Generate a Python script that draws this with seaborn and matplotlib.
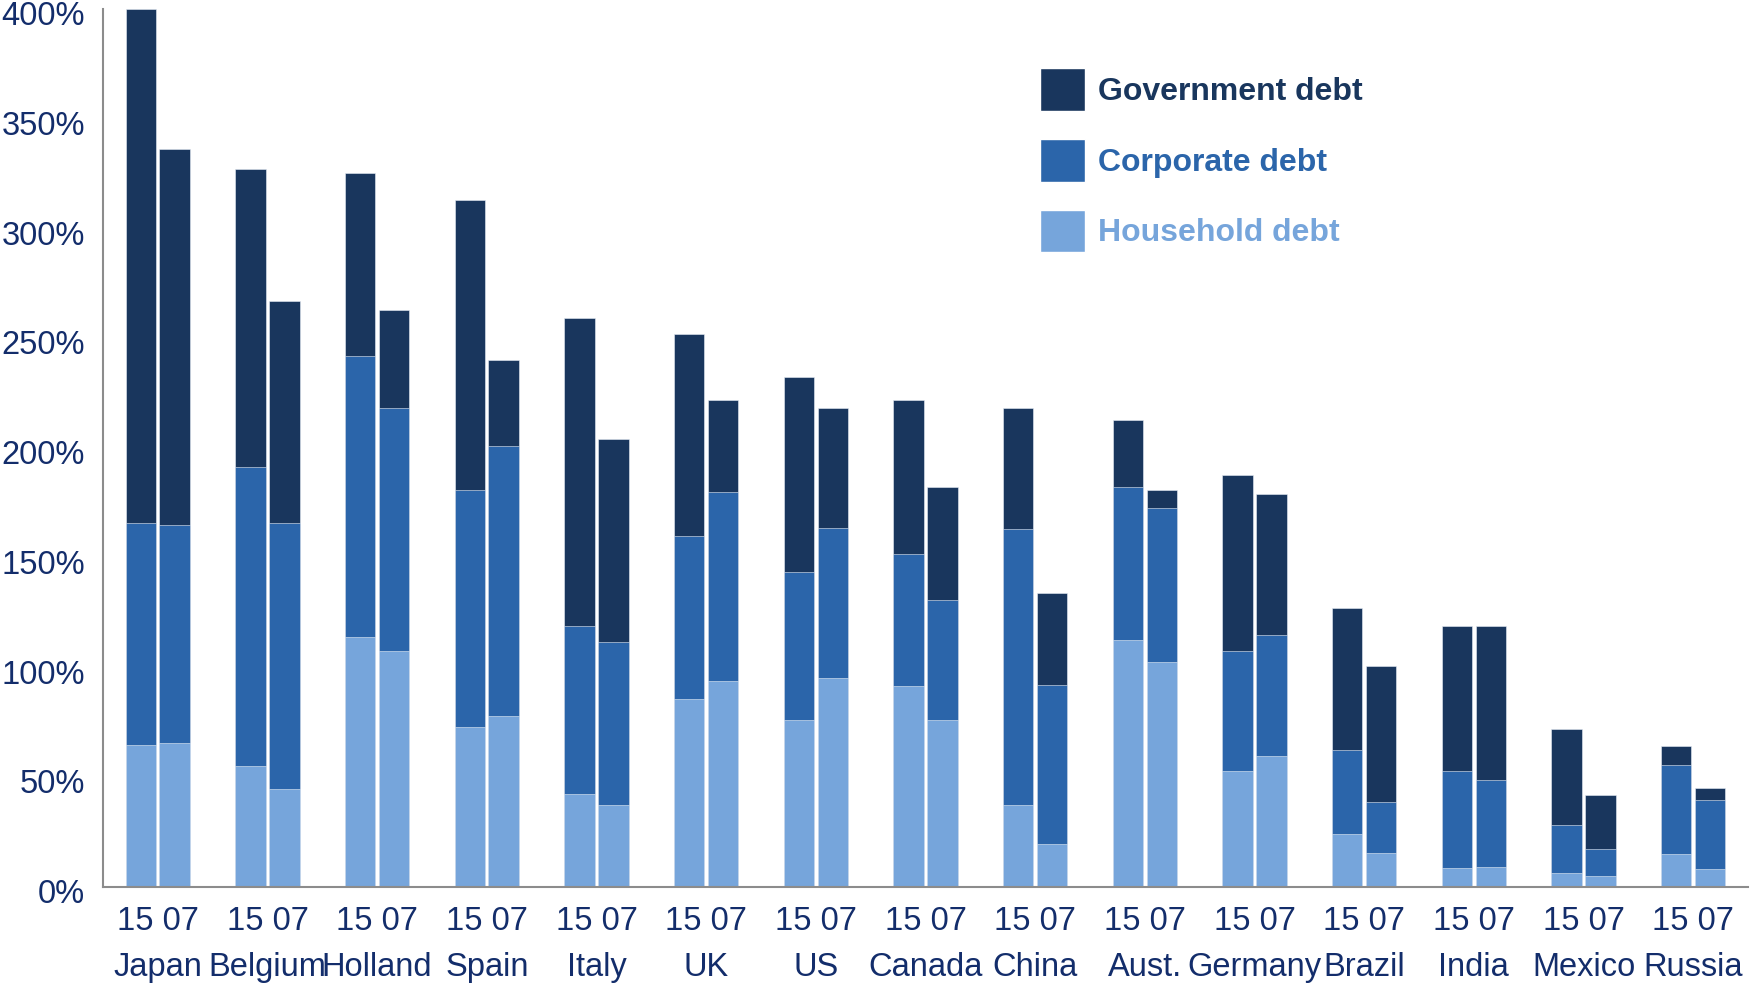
import numpy as np
import pandas as pd
import matplotlib
matplotlib.use("Agg")
import matplotlib.pyplot as plt
from matplotlib.patches import Patch
from matplotlib.ticker import FixedLocator, FuncFormatter
from matplotlib.transforms import ScaledTranslation
import seaborn as sns

countries = ['Japan', 'Belgium', 'Holland', 'Spain', 'Italy', 'UK', 'US', 'Canada',
             'China', 'Aust.', 'Germany', 'Brazil', 'India', 'Mexico', 'Russia']
years = ['15', '07']

# debt as % of GDP
household_15 = [64.5, 55, 114, 73, 42.5, 85.5, 76, 91.5, 37.5, 112.5, 53, 24, 8.5, 6.5, 15]
corporate_15 = [101.5, 136.5, 128, 108, 76.5, 74.5, 67.5, 60, 125.5, 69.5, 54.5, 38.5, 44.5, 21.5, 40.5]
government_15 = [234, 135.5, 83, 132, 140, 92, 89, 70.5, 55, 30.5, 80, 64.5, 66, 44, 8.5]

household_07 = [65.5, 44.5, 107.5, 78, 37.5, 94, 95, 76, 19.5, 102.5, 59.5, 15.5, 9, 5, 8]
corporate_07 = [99.5, 121.5, 110.5, 123, 74, 86, 68.5, 54.5, 72.5, 70, 55.5, 23, 39.5, 12.5, 31.5]
government_07 = [171, 101, 45, 39, 92.5, 42, 54.5, 51.5, 42, 8.5, 64, 62, 70.5, 24.5, 5.5]

c_gov = '#19365D'
c_corp = '#2B65AA'
c_house = '#76A5DB'
c_text = '#132D6B'
c_axis = '#8C8C8C'

rows = []
for yr, hh, co, gv in [('15', household_15, corporate_15, government_15),
                       ('07', household_07, corporate_07, government_07)]:
    for i, c in enumerate(countries):
        rows.append({'country': c, 'year': yr,
                     'household': hh[i],
                     'corp_top': hh[i] + co[i],
                     'total': hh[i] + co[i] + gv[i]})
df = pd.DataFrame(rows)

sns.set_style('white')
plt.rcParams['font.family'] = ['Liberation Sans', 'DejaVu Sans']

fig = plt.figure(figsize=(17.63, 9.83), dpi=100)
ax = fig.add_axes([0.0584, 0.0977, 0.9331, 0.8933])

for col, color in [('total', c_gov), ('corp_top', c_corp), ('household', c_house)]:
    sns.barplot(data=df, x='country', y=col, hue='year', hue_order=years, order=countries,
                palette=[color, color], saturation=1, width=0.617, gap=0.1, dodge=True,
                errorbar=None, legend=False, edgecolor='#E8EEF6', linewidth=0.4, ax=ax)

ax.set_xlim(-0.5, len(countries) - 0.5)
ax.set_ylim(0, 400)
ax.set_xlabel('')
ax.set_ylabel('')

ax.set_yticks(np.arange(0, 401, 50))
ax.yaxis.set_major_formatter(FuncFormatter(lambda v, p: f'{int(v)}%'))
ax.tick_params(axis='y', length=0, pad=13, labelsize=23.5, labelcolor=c_text)
# labels sit a little below their gridline value in the original
shift = ScaledTranslation(0, -3 / 72, fig.dpi_scale_trans)
for lab in ax.get_yticklabels():
    lab.set_transform(lab.get_transform() + shift)

ax.set_xticks(range(len(countries)))
ax.set_xticklabels([f'15 07\n{c}' for c in countries], linespacing=1.62)
ax.tick_params(axis='x', which='major', length=0, pad=14, labelsize=23.5, labelcolor=c_text)
ax.xaxis.set_minor_locator(FixedLocator(np.arange(0.5, len(countries), 1.0)))
ax.tick_params(axis='x', which='minor', direction='in', length=7, width=1.5, color=c_axis)

for s in ['top', 'right']:
    ax.spines[s].set_visible(False)
for s in ['left', 'bottom']:
    ax.spines[s].set_color(c_axis)
    ax.spines[s].set_linewidth(1.5)

handles = [Patch(facecolor=c_gov), Patch(facecolor=c_corp), Patch(facecolor=c_house)]
ax.legend(handles, ['Government debt', 'Corporate debt', 'Household debt'],
          loc='upper left', bbox_to_anchor=(1040 / 1763, 1 - 68 / 983),
          bbox_transform=fig.transFigure, frameon=False,
          prop={'weight': 'bold', 'size': 23}, labelcolor=[c_gov, c_corp, c_house],
          handlelength=1.41, handleheight=1.68, handletextpad=0.4,
          labelspacing=0.88, borderpad=0, borderaxespad=0)

fig.savefig('out.png', dpi=100)
